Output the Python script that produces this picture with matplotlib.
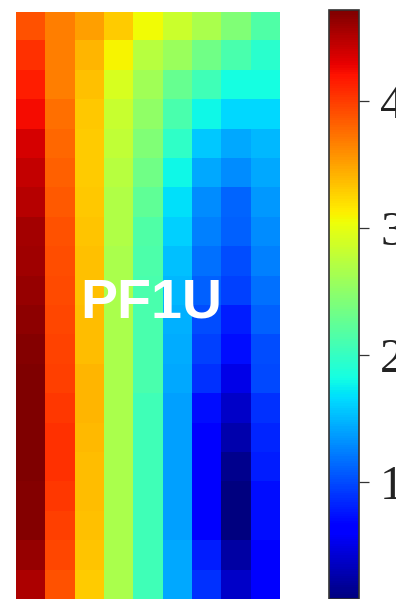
import numpy as np
import matplotlib
matplotlib.use("Agg")
import matplotlib.pyplot as plt
from matplotlib.colors import Normalize

# Field values per column (top row first), 9 columns x 20 rows
col_0 = [3.89, 4.05, 4.15, 4.24, 4.36, 4.44, 4.49, 4.56, 4.59, 4.62,
         4.655, 4.69, 4.71, 4.72, 4.72, 4.72, 4.70, 4.69, 4.62, 4.53]
col_1 = [3.68, 3.68, 3.68, 3.75, 3.79, 3.83, 3.85, 3.89, 3.91, 3.93,
         3.95, 3.97, 3.99, 4.03, 4.05, 4.05, 4.03, 3.99, 3.95, 3.89]
col_2 = [3.51, 3.40, 3.36, 3.32, 3.30, 3.30, 3.31, 3.34, 3.36, 3.36,
         3.37, 3.37, 3.40, 3.40, 3.39, 3.37, 3.37, 3.36, 3.34, 3.30]
col_3 = [3.30, 3.09, 2.92, 2.83, 2.79, 2.74, 2.70, 2.70, 2.66, 2.66,
         2.66, 2.66, 2.66, 2.66, 2.66, 2.66, 2.66, 2.66, 2.66, 2.66]
col_4 = [3.07, 2.74, 2.61, 2.52, 2.42, 2.34, 2.25, 2.16, 2.14, 2.11,
         2.11, 2.11, 2.11, 2.07, 2.07, 2.07, 2.07, 2.07, 2.07, 2.07]
col_5 = [2.85, 2.57, 2.29, 2.11, 1.98, 1.79, 1.68, 1.61, 1.53, 1.50,
         1.46, 1.44, 1.43, 1.39, 1.39, 1.39, 1.39, 1.39, 1.43, 1.43]
col_6 = [2.66, 2.34, 2.07, 1.79, 1.57, 1.43, 1.31, 1.24, 1.17, 1.10,
         1.02, 0.95, 0.88, 0.73, 0.64, 0.63, 0.63, 0.66, 0.80, 0.88]
col_7 = [2.42, 2.11, 1.82, 1.64, 1.43, 1.31, 1.13, 1.10, 1.02, 0.95,
         0.80, 0.73, 0.50, 0.37, 0.27, 0.15, 0.08, 0.09, 0.24, 0.37]
col_8 = [2.16, 1.94, 1.82, 1.64, 1.50, 1.43, 1.36, 1.31, 1.24, 1.17,
         1.10, 1.02, 0.99, 0.88, 0.84, 0.80, 0.73, 0.73, 0.63, 0.63]

color_min = 0.08
color_max = 4.72
cbar_ticks = [1, 2, 3, 4]
cbar_labels = ["1", "2", "3", "4"]
title_text = "PF1U"

grid = np.column_stack([col_0, col_1, col_2, col_3, col_4,
                        col_5, col_6, col_7, col_8])

W, H = 396, 599
fig = plt.figure(figsize=(W / 100, H / 100), dpi=100)

norm = Normalize(vmin=color_min, vmax=color_max)

ax = fig.add_axes([16 / W, 0, 264 / W, 587.5 / H])
im = ax.imshow(grid, cmap="jet", norm=norm, aspect="auto",
               interpolation="nearest")
ax.set_axis_off()

fig.text(151 / W, 1 - 303 / H, title_text, color="white",
         fontsize=40, fontweight="bold", family="Liberation Sans",
         ha="center", va="center")

cax = fig.add_axes([328.5 / W, 0, 30 / W, 589 / H])
cb = fig.colorbar(im, cax=cax)
cb.set_ticks(cbar_ticks)
cb.set_ticklabels(cbar_labels)
cb.outline.set_edgecolor("#333333")
cb.outline.set_linewidth(1.2)
cax.tick_params(length=7, width=0.9, color="#333333", pad=8.5,
                labelsize=35, labelcolor="#222222")
for lbl in cax.get_yticklabels():
    lbl.set_family("Liberation Serif")

fig.savefig("out.png", dpi=100)
